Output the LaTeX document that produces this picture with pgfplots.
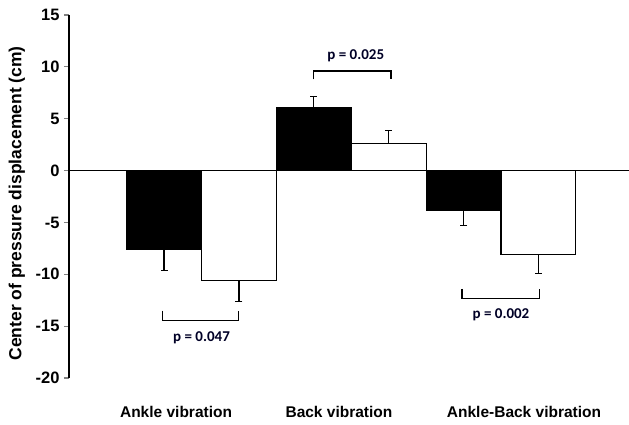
\documentclass[border=0pt]{standalone}
\usepackage{fontspec}
\setmainfont{Liberation Sans}
\newfontfamily\pfont{Carlito}
\usepackage{pgfplots}
\pgfplotsset{compat=1.18}
\begin{document}
\begin{tikzpicture}
\begin{axis}[
  scale only axis,
  width=560pt, height=363pt,
  xmin=-0.885, xmax=2.855,
  ymin=-20, ymax=15,
  axis lines*=left,
  x axis line style={draw=none},
  y axis line style={line width=1.2pt},
  ytick={-20,-15,...,15},
  xtick={-0.17,0.918,2.154},
  xticklabels={Ankle vibration, Back vibration, Ankle-Back vibration},
  xtick style={draw=none},
  ytick style={line width=1.2pt},
  tick align=outside,
  major tick length=5pt,
  /pgf/number format/assume math mode=true,
  yticklabel style={font=\bfseries\fontsize{16.5}{16.5}\selectfont, xshift=-1pt},
  xticklabel style={font=\bfseries\fontsize{15.5}{15.5}\selectfont, yshift=-20pt},
  ylabel={Center of pressure displacement (cm)},
  ylabel style={font=\bfseries\fontsize{17.5}{17.5}\selectfont, at={(axis description cs:-0.093,0.481)}, anchor=center},
  ybar, bar width=0.5, bar shift=0,
  clip=false,
]
\addplot[fill=black, draw=black, line width=1.2pt,
  error bars/.cd, y dir=both, y explicit,
  error bar style={black, line width=1.2pt},
  error mark options={black, rotate=90, mark size=3.5pt, line width=1.2pt}]
  coordinates {(-0.25,-7.6) -= (0,2.0) (0.75,6.1) += (0,1.05) (1.75,-3.8) -= (0,1.5)};
\addplot[fill=white, draw=black, line width=1.2pt,
  error bars/.cd, y dir=both, y explicit,
  error bar style={black, line width=1.2pt},
  error mark options={black, rotate=90, mark size=3.5pt, line width=1.2pt}]
  coordinates {(0.25,-10.6) -= (0,2.0) (1.25,2.6) += (0,1.3) (2.25,-8.1) -= (0,1.8)};
\draw[line width=1.2pt] (axis cs:-0.885,0) -- (axis cs:2.855,0);
\draw[line width=1.2pt] (axis cs:-0.26,-13.5) -- (axis cs:-0.26,-14.46) -- (axis cs:0.245,-14.46) -- (axis cs:0.245,-13.5);
\draw[line width=1.2pt] (axis cs:0.75,8.8) -- (axis cs:0.75,9.6) -- (axis cs:1.265,9.6) -- (axis cs:1.265,8.8);
\draw[line width=1.2pt] (axis cs:1.74,-11.4) -- (axis cs:1.74,-12.3) -- (axis cs:2.255,-12.3) -- (axis cs:2.255,-11.4);
\node[font=\pfont\bfseries\fontsize{15}{15}\selectfont, text=black!85!blue] at (axis cs:0,-16.1) {p = 0.047};
\node[font=\pfont\bfseries\fontsize{15}{15}\selectfont, text=black!85!blue] at (axis cs:1.03,11.05) {p = 0.025};
\node[font=\pfont\bfseries\fontsize{15}{15}\selectfont, text=black!85!blue] at (axis cs:2.0,-13.9) {p = 0.002};
\end{axis}
\pgfresetboundingbox
\path ([xshift=-69pt,yshift=-47pt]current axis.south west) rectangle ([yshift=15pt]current axis.north east);
\end{tikzpicture}
\end{document}
